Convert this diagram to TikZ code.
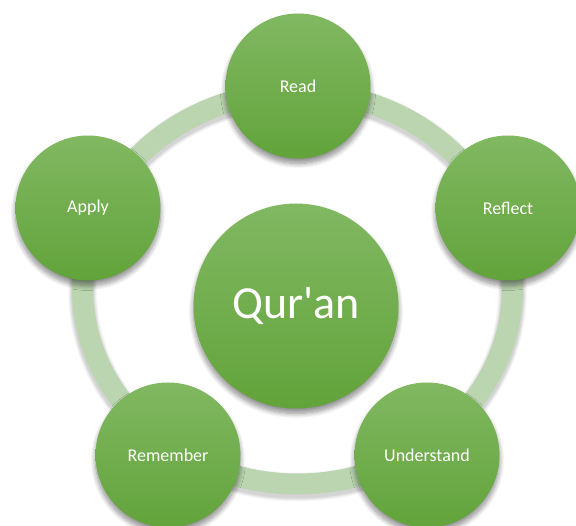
\documentclass[tikz,border=0pt]{standalone}
\usepackage{fontspec}
\setmainfont[Ligatures=TeXOff]{Carlito}
\usetikzlibrary{shadows.blur}
\definecolor{gtop}{HTML}{81B862}
\definecolor{gbot}{HTML}{62A33A}
\definecolor{ringc}{HTML}{BAD5AF}
\begin{document}
\begin{tikzpicture}[x=1pt,y=-1pt,
  bub/.style={circle, minimum size=145pt, inner sep=0pt, top color=gtop, bottom color=gbot,
    draw=none, text=white, font=\fontsize{18}{20}\selectfont,
    blur shadow={shadow xshift=0pt, shadow yshift=-5pt, shadow opacity=45,
      shadow blur radius=5pt, shadow blur steps=10}},
  hub/.style={bub, minimum size=205pt, font=\fontsize{46}{50}\selectfont},
  ringline/.style={line width=21pt, draw=ringc}]
\useasboundingbox (0,0) rectangle (576,526);
% ring with soft shadow
\foreach \w/\o in {29/0.03, 27/0.04, 25/0.05, 23/0.06}
  \draw[line width=\w pt, black, opacity=\o] (297.5,291) ellipse [x radius=215, y radius=196];
\draw[ringline] (297.5,288) ellipse [x radius=215, y radius=196];
% nodes
\node[hub] (quran) at (296,306) {Qur'an};
\node[bub] (read) at (298,86) {Read};
\node[bub] (reflect) at (508,208) {Reflect};
\node[bub] (understand) at (427,455) {Understand};
\node[bub] (remember) at (168,455) {Remember};
\node[bub] (apply) at (88,208) {Apply};
\end{tikzpicture}
\end{document}
